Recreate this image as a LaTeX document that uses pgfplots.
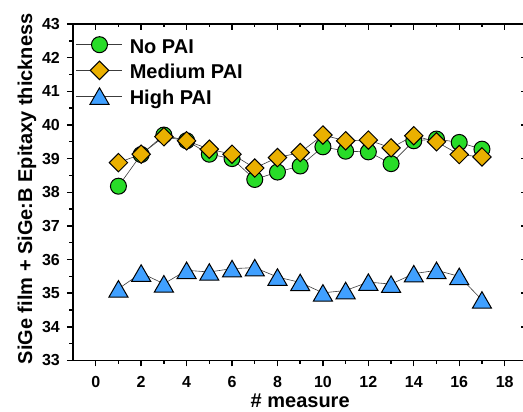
\documentclass[border=0pt]{standalone}
\usepackage{fontspec}
\setmainfont{Liberation Sans}
\usepackage{pgfplots}
\usepackage{pgfplotstable}
\pgfplotsset{compat=1.18}
\definecolor{cgreen}{RGB}{40,220,40}
\definecolor{corange}{RGB}{234,176,0}
\definecolor{cblue}{RGB}{64,160,255}
\definecolor{cline}{RGB}{60,60,60}

\pgfplotstableread{
x y
1 38.18
2 39.12
3 39.70
4 39.53
5 39.13
6 39.00
7 38.38
8 38.60
9 38.78
10 39.35
11 39.22
12 39.20
13 38.85
14 39.53
15 39.58
16 39.48
17 39.28
}\nopai
\pgfplotstableread{
x y
1 38.88
2 39.13
3 39.65
4 39.53
5 39.28
6 39.13
7 38.72
8 39.03
9 39.18
10 39.70
11 39.53
12 39.55
13 39.32
14 39.68
15 39.50
16 39.12
17 39.05
}\medpai
\pgfplotstableread{
x y
1 35.13
2 35.60
3 35.28
4 35.68
5 35.63
6 35.73
7 35.76
8 35.48
9 35.32
10 35.01
11 35.08
12 35.33
13 35.27
14 35.58
15 35.68
16 35.50
17 34.80
}\highpai

\begin{document}
\begin{tikzpicture}
\pgfplotsset{base/.style={
  scale only axis, width=454.4pt, height=336.5pt,
  xmin=-1, xmax=19, ymin=33, ymax=43,
  xtick={0,2,...,18}, ytick={33,34,...,43},
  minor x tick num=1, minor y tick num=1,
  major tick length=6pt, minor tick length=3.5pt,
  axis line style={line width=1.6pt},
  every tick/.style={black, line width=1.4pt},
}}
\begin{axis}[base, name=ax,
  axis x line*=bottom, axis y line*=left, tick align=outside,
  /pgf/number format/assume math mode=true,
  ticklabel style={font=\bfseries\fontsize{16}{16}\selectfont, inner sep=0pt},
  xticklabel style={anchor=north, yshift=-9.5pt},
  yticklabel style={anchor=east, xshift=-7pt},
  xlabel={\# measure}, ylabel={SiGe film + SiGe:B Epitaxy thickness},
  label style={font=\bfseries\fontsize{20}{20}\selectfont, inner sep=0pt},
  xlabel style={at={(axis description cs:0.5,0)}, anchor=north, yshift=-33pt},
  ylabel style={at={(axis description cs:-0.0803,0.51)}, anchor=south, rotate=0},
  legend cell align=left,
  legend style={draw=none, fill=none, at={(0,1)}, anchor=north west,
    xshift=3pt, yshift=-12pt, inner sep=0pt, row sep=8pt, column sep=7pt,
    nodes={inner sep=0pt, text depth=0pt},
    font=\bfseries\fontsize{20}{20}\selectfont},
  legend image code/.code={\draw[mark repeat=2,mark phase=2,#1] plot coordinates {(0pt,0pt) (23pt,0pt) (46pt,0pt)};},
]
\addplot[cline, line width=0.6pt, mark=*, mark size=8pt, mark options={fill=cgreen, draw=black, line width=1pt, solid}] table {\nopai};
\addlegendentry{\rule[-3pt]{0pt}{20pt}No PAI}
\addplot[cline, line width=0.6pt, mark=square*, mark size=6.5pt, mark options={rotate=45, fill=corange, draw=black, line width=1pt, solid}] table {\medpai};
\addlegendentry{\rule[-3pt]{0pt}{20pt}Medium PAI}
\addplot[cline, line width=0.6pt, mark=triangle*, mark size=11pt, mark options={yshift=-2.75pt, fill=cblue, draw=black, line width=1pt, solid}] table {\highpai};
\addlegendentry{\rule[-3pt]{0pt}{20pt}High PAI}
\end{axis}
\begin{axis}[base,
  axis x line*=top, axis y line*=right, y axis line style={draw=none},
  tick align=inside, xticklabels={}, yticklabels={}]
\end{axis}
\pgfresetboundingbox
\path[use as bounding box] ([shift={(-73pt,-51.5pt)}]ax.south west) rectangle ([shift={(450pt,360.5pt)}]ax.south west);
\end{tikzpicture}
\end{document}
